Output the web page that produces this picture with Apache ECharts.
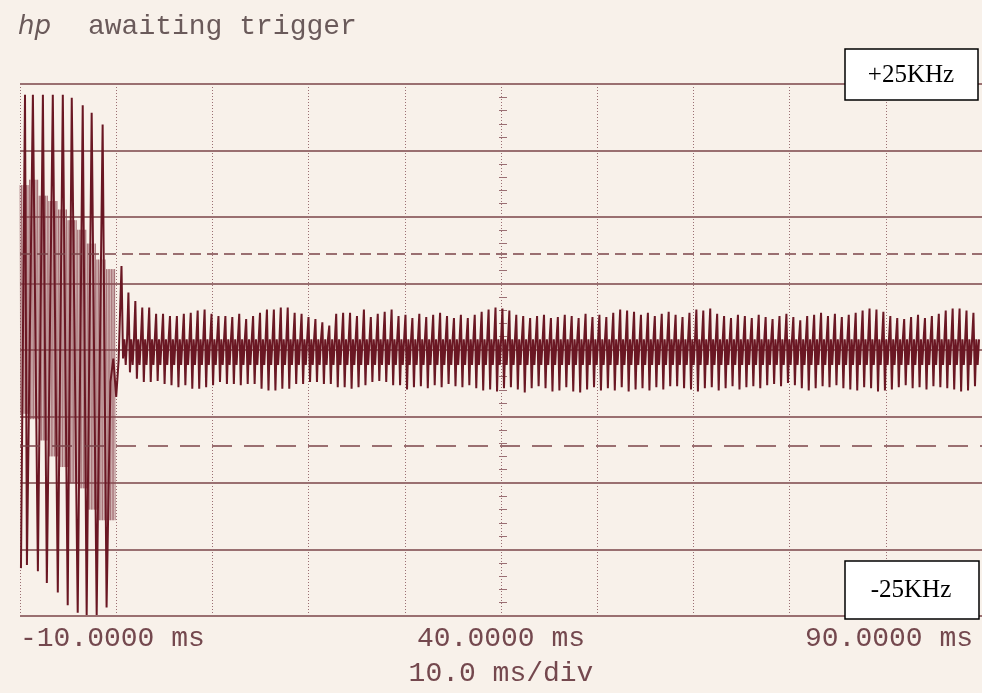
<!DOCTYPE html>
<html>
<head>
<meta charset="utf-8">
<script src="https://cdn.jsdelivr.net/npm/echarts@6/dist/echarts.min.js"></script>
<style>
  html, body { margin: 0; padding: 0; background: #f8f1ea; }
  #scope { width: 982px; height: 693px; }
</style>
</head>
<body>
<div id="scope"></div>
<script>
// axes: time in ms, FM deviation in kHz (8 div = +-25 kHz)
const timeMin = -10, timeMax = 90, timeStep = 10;
const devMin = -25, devMax = 25, devStep = 6.25;
const tickLabels = { '-10': '-10.0000 ms', '40': '40.0000 ms', '90': '90.0000 ms' };
const refLevels = [9, -9];

// burst before the trigger point, big swings up and down
const burstTopMs = [-9.48, -8.66, -7.62, -6.59, -5.55, -4.62, -3.48, -2.55, -1.41];
const burstTopKHz = [24.0, 24.0, 24.0, 24.0, 24.0, 23.7, 23.0, 22.3, 21.2];
const burstLowMs = [-9.9, -9.28, -8.14, -7.21, -6.07, -5.04, -4.0, -3.07, -2.03, -1.0];
const burstLowKHz = [-20.5, -20.2, -20.8, -21.9, -22.8, -24.0, -24.7, -24.9, -24.9, -24.2];

// the lighter filled band behind the burst (edges per ms)
const bandMs = [-10, -9, -8, -7, -6, -5, -4, -3, -2, -1];
const bandHi = [15.5, 16.0, 14.5, 14.0, 13.2, 12.2, 11.3, 10.0, 8.5, 7.6];
const bandLo = [-6.0, -6.5, -8.5, -10.0, -11.0, -12.5, -13.0, -15.0, -16.0, -16.0];

// settling right after 0 ms
const transMs = [-0.6, -0.3, 0.0, 0.25];
const transKHz = [-3.0, -0.8, -4.4, -1.0];

// settled trace, one stroke every strokeMs
const strokeStart = 0.55, strokeMs = 0.72;
const strokeTop = [
  7.9, 5.4, 4.6, 4.0, 4.0, 3.4, 3.4, 3.2, 3.2, 3.4,
  3.5, 3.7, 3.8, 3.4, 3.2, 3.2, 3.1, 3.4, 2.9, 3.2,
  3.5, 3.8, 3.8, 4.0, 4.0, 3.5, 3.4, 3.1, 2.9, 2.6,
  2.3, 3.4, 3.5, 3.5, 3.2, 3.8, 3.1, 3.4, 3.6, 3.8,
  3.2, 3.3, 3.0, 3.4, 3.1, 3.3, 3.5, 3.2, 3.0, 3.3,
  3.0, 3.3, 3.6, 3.8, 4.0, 3.9, 3.7, 3.3, 3.2, 3.0,
  3.2, 3.3, 3.0, 3.1, 3.3, 3.2, 3.0, 3.4, 3.1, 3.3,
  3.1, 3.5, 3.8, 3.7, 3.6, 3.3, 3.5, 3.2, 3.4, 3.6,
  3.3, 3.1, 3.5, 3.8, 3.7, 3.9, 3.4, 3.2, 3.0, 3.3,
  3.2, 3.0, 3.3, 3.1, 2.9, 3.2, 3.4, 3.1, 2.8, 3.2,
  3.3, 3.5, 3.2, 3.4, 3.1, 3.3, 3.5, 3.7, 3.9, 3.8,
  3.6, 3.2, 3.0, 2.9, 3.1, 3.3, 3.0, 3.2, 3.4, 3.7,
  3.9, 3.9, 3.7, 3.5
];
const strokeLow = [
  -0.8, -2.1, -2.7, -3.0, -3.0, -2.9, -3.2, -3.3, -3.5, -3.3,
  -3.65, -3.65, -3.5, -3.3, -3.0, -3.2, -3.2, -3.3, -3.2, -3.2,
  -3.65, -3.8, -3.8, -3.65, -3.65, -3.2, -3.2, -3.0, -3.0, -3.2,
  -3.2, -3.5, -3.5, -3.65, -3.5, -3.3, -3.0, -2.9, -3.0, -3.3,
  -3.3, -3.7, -3.5, -3.4, -3.6, -3.3, -3.5, -3.2, -3.4, -3.5,
  -3.3, -3.6, -3.8, -3.7, -3.9, -3.6, -3.5, -3.7, -4.0, -3.6,
  -3.4, -3.6, -3.9, -3.8, -3.5, -3.9, -4.0, -3.7, -3.5, -3.8,
  -3.6, -3.8, -3.5, -3.9, -3.7, -3.6, -3.8, -3.5, -3.7, -3.4,
  -3.4, -3.6, -3.7, -3.9, -3.6, -3.5, -3.8, -3.6, -3.4, -3.7,
  -3.5, -3.4, -3.6, -3.3, -3.2, -3.4, -3.1, -3.3, -3.6, -3.8,
  -3.6, -3.4, -3.5, -3.3, -3.6, -3.7, -3.8, -3.5, -3.6, -3.9,
  -3.8, -3.7, -3.5, -3.3, -3.6, -3.5, -3.7, -3.4, -3.5, -3.6,
  -3.7, -3.9, -3.8, -3.4
];
// dark inner band of the settled trace
const innerHi = 1.0, innerLo = -1.4;

const ink = '#6a1723';
const gridInk = '#7b4449';
const textInk = '#74484e';
const monoFont = 'Liberation Mono';

// band behind the burst: zig-zag between its edges
let bandData = [];
bandMs.forEach(function (t, i) {
  for (let k = 0; k < 12; k++) {
    bandData.push([t + k / 12, k % 2 == 0 ? bandHi[i] : bandLo[i]]);
  }
});

// main trace
let trace = [];
burstTopMs.forEach(function (t, i) { trace.push([t, burstTopKHz[i]]) });
burstLowMs.forEach(function (t, i) { trace.push([t, burstLowKHz[i]]) });
trace.sort(function (a, b) { return a[0] - b[0] });
transMs.forEach(function (t, i) { trace.push([t, transKHz[i]]) });
strokeTop.forEach(function (v, i) {
  let t = strokeStart + i * strokeMs;
  trace.push([t, v], [t + 0.16, strokeLow[i]], [t + 0.3, innerHi], [t + 0.44, innerLo], [t + 0.58, innerHi]);
});

let chart = echarts.init(document.getElementById('scope'));

let option = {
  backgroundColor: '#f8f1ea',
  animation: false,
  grid: { left: 20, top: 84, width: 966, height: 534 },
  xAxis: {
    type: 'value',
    min: timeMin,
    max: timeMax,
    interval: timeStep,
    axisLine: { show: false },
    axisTick: { show: false },
    splitLine: { show: true, lineStyle: { type: [1, 2], color: '#9b6f73', width: 1 } },
    axisLabel: {
      show: true,
      interval: 0,
      margin: 9,
      alignMinLabel: 'left',
      alignMaxLabel: 'right',
      fontFamily: monoFont,
      fontSize: 28,
      color: textInk,
      formatter: function (v) {
        if (v == timeMax) return '{r|' + tickLabels[v] + '}';
        return tickLabels[v] || '';
      },
      rich: {
        r: { fontFamily: monoFont, fontSize: 28, color: textInk, padding: [0, 9, 0, 0] }
      }
    },
    name: '10.0 ms/div',
    nameLocation: 'middle',
    nameGap: 44,
    nameTextStyle: { fontFamily: monoFont, fontSize: 28, color: textInk }
  },
  yAxis: [{
    type: 'value',
    min: devMin,
    max: devMax,
    interval: devStep,
    axisLine: { show: false },
    axisTick: { show: false },
    axisLabel: { show: false },
    splitLine: { show: true, lineStyle: { color: gridInk, width: 1.5 } }
  }, {
    // tick crosses along the centre vertical line
    type: 'value',
    min: devMin,
    max: devMax,
    interval: devStep,
    position: 'left',
    offset: -487,
    axisLine: { show: false },
    axisTick: { show: true, length: 8, lineStyle: { color: '#9b6f73', width: 1 } },
    minorTick: { show: true, splitNumber: 5, length: 8, lineStyle: { color: '#9b6f73', width: 1 } },
    axisLabel: { show: false },
    splitLine: { show: false }
  }],
  series: [{
    name: 'band',
    type: 'line',
    data: bandData,
    showSymbol: false,
    silent: true,
    z: 1,
    lineStyle: { color: '#8e4d55', width: 1, opacity: 0.55 },
    markLine: {
      silent: true,
      symbol: 'none',
      label: { show: false },
      data: [
        { yAxis: refLevels[0], lineStyle: { type: [11, 6], color: gridInk, width: 1.5 } },
        { yAxis: refLevels[1], lineStyle: { type: [20, 12], color: gridInk, width: 1.5 } }
      ]
    }
  }, {
    name: 'trace',
    type: 'line',
    data: trace,
    showSymbol: false,
    silent: true,
    z: 3,
    lineStyle: { color: ink, width: 2 }
  }],
  graphic: [
    { type: 'text', x: 18, y: 14, style: { text: 'hp', font: 'italic 26px "DejaVu Sans"', fill: '#6a5a5a' } },
    { type: 'text', x: 88, y: 27, style: { text: 'awaiting trigger', font: '28px "Liberation Mono"', fill: '#6a5a5a', verticalAlign: 'middle' } },
    { type: 'rect', z: 100, shape: { x: 845, y: 49, width: 133, height: 51 }, style: { fill: '#fff', stroke: '#000', lineWidth: 1.5 } },
    { type: 'text', z: 101, x: 911, y: 75, style: { text: '+25KHz', font: '25px "Liberation Serif"', fill: '#000', align: 'center', verticalAlign: 'middle' } },
    { type: 'rect', z: 100, shape: { x: 845, y: 561, width: 134, height: 58 }, style: { fill: '#fff', stroke: '#000', lineWidth: 1.5 } },
    { type: 'text', z: 101, x: 911, y: 590, style: { text: '-25KHz', font: '25px "Liberation Serif"', fill: '#000', align: 'center', verticalAlign: 'middle' } }
  ]
};

chart.setOption(option);
</script>
</body>
</html>
